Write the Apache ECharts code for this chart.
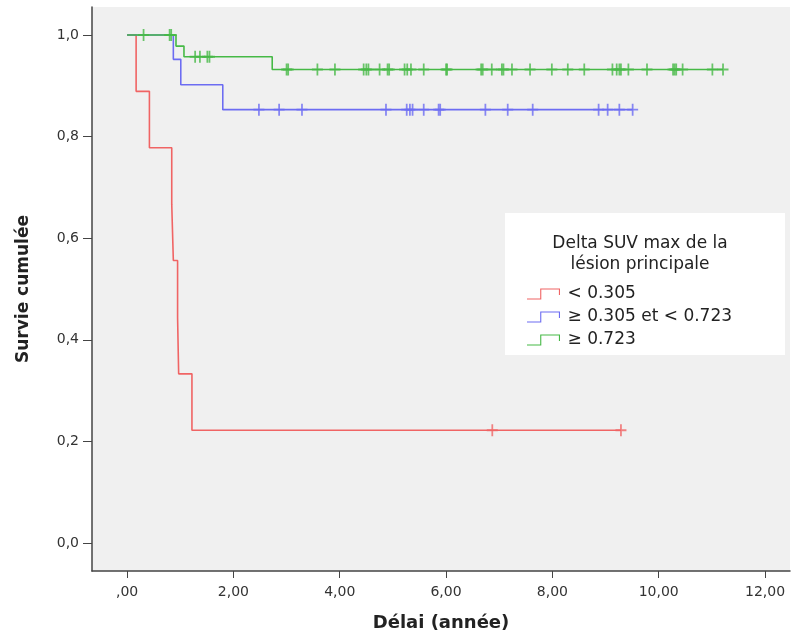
<!DOCTYPE html>
<html>
<head>
<meta charset="utf-8">
<script src="https://cdn.jsdelivr.net/npm/echarts@6/dist/echarts.min.js"></script>
<style>
  html, body { margin: 0; padding: 0; background: #fff; }
  #main { width: 794px; height: 637px; }
</style>
</head>
<body>
<div id="main"></div>
<script>
// Courbes de survie (Kaplan-Meier)
const groupNames = ['< 0.305', '≥ 0.305 et < 0.723', '≥ 0.723'];
const groupColors = ['#f06464', '#6c6cf2', '#46b946'];

const redEventTimes = [0.17, 0.42, 0.84, 0.87, 0.95, 0.97, 1.22];
const redSurv = [0.889, 0.778, 0.667, 0.556, 0.444, 0.333, 0.222];
const redCensor = [6.87, 9.29];

const blueEventTimes = [0.87, 1.01, 1.80];
const blueSurv = [0.952, 0.902, 0.853];
const blueCensor = [2.48, 2.86, 3.29, 4.87, 5.26, 5.32, 5.37, 5.58, 5.86, 5.89,
  6.74, 7.16, 7.63, 8.87, 9.04, 9.26, 9.51];

const greenEventTimes = [0.92, 1.07, 2.73];
const greenSurv = [0.978, 0.957, 0.932];
const greenCensor = [0.31, 0.80, 0.83, 1.28, 1.37, 1.51, 1.55, 3.0, 3.03, 3.58,
  3.91, 4.45, 4.50, 4.54, 4.75, 4.90, 4.93, 5.22, 5.27, 5.34, 5.58, 6.0, 6.02,
  6.66, 6.69, 6.86, 7.05, 7.08, 7.24, 7.58, 7.99, 8.29, 8.60, 9.13, 9.21, 9.26,
  9.29, 9.43, 9.78, 10.27, 10.30, 10.33, 10.45, 11.01, 11.21];

const xTicks = [0, 2, 4, 6, 8, 10, 12];
const yTicks = [0, 0.2, 0.4, 0.6, 0.8, 1.0];

// survie au temps t (fonction en escalier)
function survAt(times, surv, t) {
  let s = 1;
  for (let i = 0; i < times.length; i++) {
    if (times[i] <= t) s = surv[i];
  }
  return s;
}

function stepData(times, surv, censor) {
  const pts = [[0, 1]];
  times.forEach((t, i) => pts.push([t, surv[i]]));
  const end = censor[censor.length - 1];
  pts.push([end, survAt(times, surv, end)]);
  return pts;
}

function censorData(times, surv, censor) {
  return censor.map(t => [t, survAt(times, surv, t)]);
}

const groups = [
  [redEventTimes, redSurv, redCensor],
  [blueEventTimes, blueSurv, blueCensor],
  [greenEventTimes, greenSurv, greenCensor]
];

const plusPath = 'path://M4.2,0H5.8V4.2H10V5.8H5.8V10H4.2V5.8H0V4.2H4.2Z';
const stepIcon = 'path://M0,9H12V0H30V6H29V1H13V10H0Z';

const series = [];
groups.forEach((g, i) => {
  series.push({
    name: groupNames[i],
    type: 'line',
    step: 'end',
    data: stepData(g[0], g[1], g[2]),
    showSymbol: false,
    lineStyle: { color: groupColors[i], width: 1.6 },
    itemStyle: { color: groupColors[i] },
    z: 2 + i
  });
  series.push({
    name: groupNames[i] + ' censuré',
    type: 'scatter',
    data: censorData(g[0], g[1], g[2]),
    symbol: plusPath,
    symbolSize: [11, 12],
    itemStyle: { color: groupColors[i] },
    z: 2 + i
  });
});

const chart = echarts.init(document.getElementById('main'));
const font = 'DejaVu Sans, Verdana, sans-serif';

chart.setOption({
  animation: false,
  textStyle: { fontFamily: font },
  grid: {
    left: 92, right: 4, top: 7, bottom: 64,
    show: true, backgroundColor: '#f0f0f0', borderWidth: 0
  },
  xAxis: {
    type: 'value',
    min: -0.66, max: 12.47,
    name: 'Délai (année)',
    nameLocation: 'middle',
    nameGap: 43,
    nameTextStyle: { fontSize: 18, fontWeight: 'bold', color: '#222', fontFamily: font },
    axisLine: { onZero: false, lineStyle: { color: '#444', width: 1.5 } },
    axisTick: { show: true, length: 7, customValues: xTicks, lineStyle: { color: '#444' } },
    axisLabel: {
      customValues: xTicks,
      fontSize: 14, color: '#333', margin: 14,
      formatter: v => v === 0 ? ',00' : v.toFixed(2).replace('.', ',')
    },
    splitLine: { show: false }
  },
  yAxis: {
    type: 'value',
    min: -0.055, max: 1.055,
    name: 'Survie cumulée',
    nameLocation: 'middle',
    nameGap: 60,
    nameRotate: 90,
    nameTextStyle: { fontSize: 17, fontWeight: 'bold', color: '#222', fontFamily: font },
    axisLine: { show: true, onZero: false, lineStyle: { color: '#444', width: 1.5 } },
    axisTick: { show: true, length: 9, customValues: yTicks, lineStyle: { color: '#444' } },
    axisLabel: {
      customValues: yTicks,
      fontSize: 14, color: '#333', margin: 13,
      formatter: v => v.toFixed(1).replace('.', ',')
    },
    splitLine: { show: false }
  },
  legend: {
    data: groupNames,
    orient: 'vertical',
    left: 522, top: 280,
    z: 20,
    icon: stepIcon,
    itemWidth: 38, itemHeight: 11,
    itemGap: 5,
    textStyle: { fontSize: 17, color: '#222', lineHeight: 18, fontFamily: font },
    selectedMode: false
  },
  graphic: [
    {
      type: 'rect', left: 505, top: 213, z: 10,
      shape: { width: 280, height: 142 },
      style: { fill: '#fff' }
    },
    {
      type: 'text', z: 11,
      x: 640, y: 233,
      style: {
        text: 'Delta SUV max de la\nlésion principale',
        font: '17px DejaVu Sans, Verdana, sans-serif',
        fill: '#222', lineHeight: 21, align: 'center'
      }
    }
  ],
  series: series
});
</script>
</body>
</html>
